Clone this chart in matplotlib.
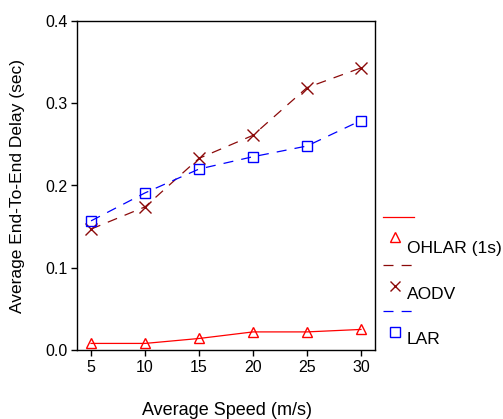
import matplotlib
matplotlib.use('Agg')
import matplotlib.pyplot as plt
from matplotlib.lines import Line2D

plt.rcParams['font.family'] = ['Liberation Sans', 'DejaVu Sans']

speed = [5, 10, 15, 20, 25, 30]
ohlar = [0.008, 0.008, 0.014, 0.022, 0.022, 0.025]
aodv = [0.147, 0.174, 0.233, 0.261, 0.319, 0.343]
lar = [0.157, 0.191, 0.220, 0.235, 0.248, 0.279]
names = ['OHLAR (1s)', 'AODV', 'LAR']
yticks = [0.0, 0.1, 0.2, 0.3, 0.4]

W, H = 503, 419
fig = plt.figure(figsize=(W / 100, H / 100), dpi=100)
ax = fig.add_axes([77 / W, 1 - 350 / H, (375 - 77) / W, (350 - 21) / H])

c_ohlar = '#ff0000'
c_aodv = '#8b0a0a'
c_lar = '#0000ff'
dash = (8, 6.5)

ax.plot(speed, ohlar, color=c_ohlar, lw=0.9, marker='^', ms=7.5, mfc='none', mec=c_ohlar, mew=1.0)
ax.plot(speed, aodv, color=c_aodv, lw=0.9, dashes=dash, marker='x', ms=8, mec=c_aodv, mew=1.0)
ax.plot(speed, lar, color=c_lar, lw=0.9, dashes=dash, marker='s', ms=7, mfc='none', mec=c_lar, mew=1.0)

ax.set_xlim(3.7, 31.3)
ax.set_ylim(0, 0.4)
ax.set_xticks(speed)
ax.set_yticks(yticks)
ax.set_yticklabels(['%.1f' % v for v in yticks])
ax.tick_params(direction='out', length=4, width=1, labelsize=11.5, pad=3)
for s in ax.spines.values():
    s.set_linewidth(1.0)

fig.text(18 / W, 1 - 186 / H, 'Average End-To-End Delay (sec)', rotation=90,
         ha='center', va='center', fontsize=12.5)
fig.text(227 / W, 1 - 410 / H, 'Average Speed (m/s)', ha='center', va='center', fontsize=13)

# legend drawn by hand, outside on the right
cols = [c_ohlar, c_aodv, c_lar]
marks = ['^', 'x', 's']
styles = ['-', (0, dash), (0, dash)]
line_y = [217, 265, 311]
mark_y = [237, 286, 332]
text_y = [248, 294, 340]
for i in range(3):
    fig.add_artist(Line2D([383 / W, 414 / W], [1 - line_y[i] / H] * 2,
                          color=cols[i], lw=0.9, linestyle=styles[i]))
    fig.add_artist(Line2D([395 / W], [1 - mark_y[i] / H], marker=marks[i], ms=6.5,
                          mfc='none', mec=cols[i], mew=1.0, linestyle='none'))
    fig.text(407 / W, 1 - text_y[i] / H, names[i], ha='left', va='center', fontsize=12.5)

fig.savefig('out.png', dpi=100)
